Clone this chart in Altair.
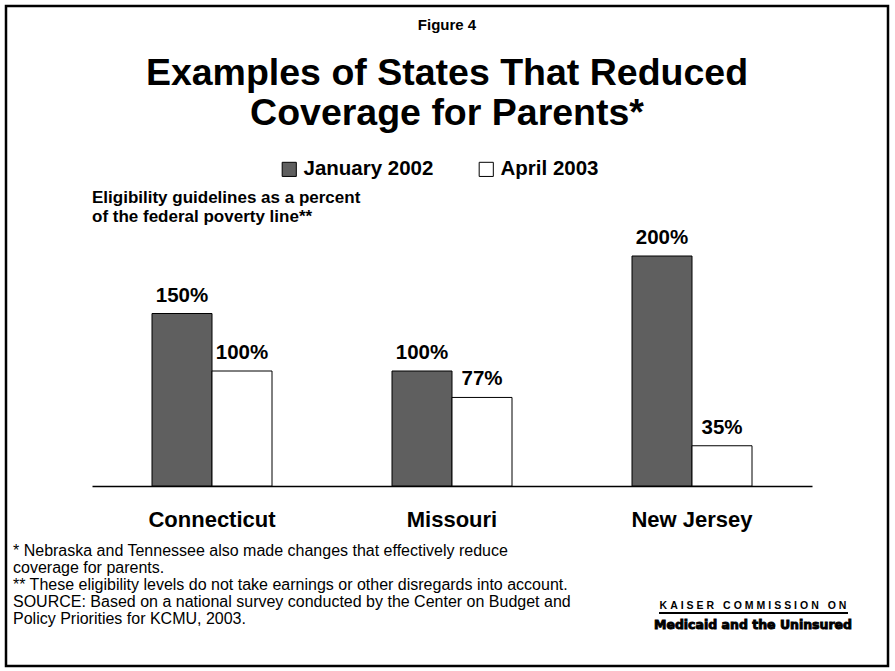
import altair as alt
import pandas as pd

states = ["Connecticut", "Missouri", "New Jersey"]
jan_2002 = [150, 100, 200]
apr_2003 = [100, 77, 35]
series = ["January 2002", "April 2003"]
colors = ["#5f5f5f", "#ffffff"]

fig_label = "Figure 4"
title_text = "Examples of States That Reduced\nCoverage for Parents*"
axis_note = "Eligibility guidelines as a percent\nof the federal poverty line**"
footnotes = ("* Nebraska and Tennessee also made changes that effectively reduce\n"
             "coverage for parents.\n"
             "** These eligibility levels do not take earnings or other disregards into account.\n"
             "SOURCE: Based on a national survey conducted by the Center on Budget and\n"
             "Policy Priorities for KCMU, 2003.")
logo_words = ["KAISER", "COMMISSION", "ON"]
logo_bottom = "Medicaid and the Uninsured"

rows = []
for i, s in enumerate(states):
    rows.append({"state": s, "period": series[0], "value": jan_2002[i]})
    rows.append({"state": s, "period": series[1], "value": apr_2003[i]})
df = pd.DataFrame(rows)
df["label"] = df["value"].astype(str) + "%"

FONT = "Liberation Sans"
W, H = 720, 230

x = alt.X("state:N", sort=states,
          scale=alt.Scale(paddingInner=0.5, paddingOuter=0.25),
          axis=alt.Axis(title=None, labelAngle=0, labelFontSize=22, labelFontWeight="bold",
                        labelColor="black", labelFont=FONT, labelPadding=23, ticks=False,
                        domainColor="black", domainWidth=1.5, grid=False))
xo = alt.XOffset("period:N", sort=series, scale=alt.Scale(paddingInner=0, paddingOuter=0))
y = alt.Y("value:Q", scale=alt.Scale(domain=[0, 200], nice=False), axis=None)

bars = alt.Chart(df).mark_bar(stroke="black", strokeWidth=1).encode(
    x=x, xOffset=xo, y=y,
    fill=alt.Fill("period:N", sort=series,
                  scale=alt.Scale(domain=series, range=colors),
                  legend=alt.Legend(orient="none", legendX=187, legendY=-97, direction="horizontal",
                                    title=None, symbolType="square", symbolSize=200,
                                    symbolStrokeColor="black", symbolStrokeWidth=1,
                                    labelFontSize=20.5, labelFontWeight="bold", labelFont=FONT,
                                    labelColor="black", columnPadding=42, labelOffset=4)),
)

labels = alt.Chart(df).mark_text(dy=-8, baseline="bottom", fontSize=20.5, fontWeight="bold",
                                 font=FONT, color="black").encode(
    x=x, xOffset=xo, y=y, text="label:N")

one = pd.DataFrame({"k": [0]})

frame = alt.Chart(one).mark_rect(fillOpacity=0, stroke="black", strokeWidth=2.5).encode(
    x=alt.value(-86), x2=alt.value(796), y=alt.value(-250), y2=alt.value(410))

def txt(text, xv, yv, font=FONT, **kw):
    return alt.Chart(pd.DataFrame({"t": [text]})).mark_text(
        font=font, color="black", lineBreak="\n", **kw).encode(
        text="t:N", x=alt.value(xv), y=alt.value(yv))

gap = "\u2009\u200a"
logo_top = (gap * 3).join(gap.join(w) for w in logo_words)

fig = txt(fig_label, 355, -231, fontSize=15, fontWeight="bold", baseline="middle", align="center")
title = txt(title_text, 355, -171, fontSize=37.5, fontWeight="bold", baseline="alphabetic",
            align="center", lineHeight=40)
note = txt(axis_note, 0, -53, fontSize=17, fontWeight="bold", baseline="alphabetic",
           align="left", lineHeight=19)
foot = txt(footnotes, -79, 300, fontSize=16, baseline="alphabetic", align="left", lineHeight=17)
logo1 = txt(logo_top, 661, 353, fontSize=10.5, fontWeight="bold", baseline="alphabetic", align="center")
logo_rule = alt.Chart(one).mark_rule(color="black", strokeWidth=2).encode(
    x=alt.value(567), x2=alt.value(756), y=alt.value(357))
logo2 = txt(logo_bottom, 661, 373, font="DejaVu Sans", fontSize=12.5, fontWeight="bold",
            baseline="alphabetic", align="center", stroke="black", strokeWidth=0.9)

chart = alt.layer(frame, bars, labels, fig, title, note, foot, logo1, logo_rule, logo2).properties(
    width=W, height=H,
    autosize=alt.AutoSizeParams(type="none"),
    padding={"left": 92, "top": 256, "right": 83, "bottom": 185},
    background="white",
).configure_view(stroke=None)

chart.save("out.html", embed_options={"renderer": "svg", "actions": False})
